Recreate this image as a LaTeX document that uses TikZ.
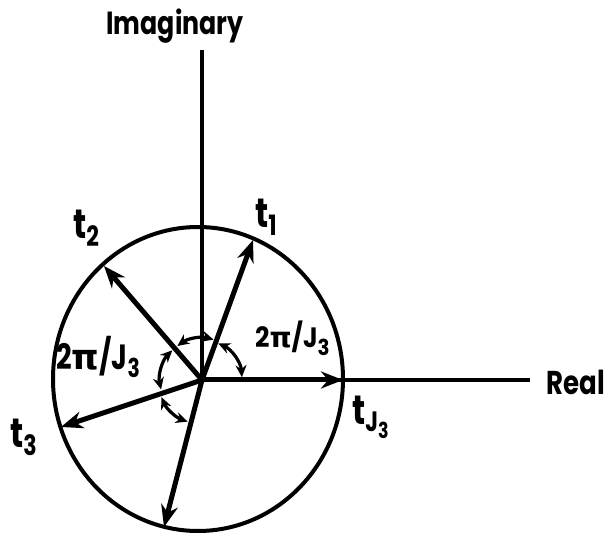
\documentclass[tikz,border=0pt]{standalone}
\usepackage{fontspec}
\setmainfont{Poppins}
\newfontfamily\labA[FakeStretch=0.79]{Poppins}
\newfontfamily\labB[FakeStretch=0.9]{Poppins}
\newfontfamily\labC[FakeStretch=0.78]{Poppins}
\newfontfamily\grk{DejaVu Sans}
\usetikzlibrary{arrows.meta,calc}
\newcommand{\subn}[3]{\raisebox{-#1pt}{\fontsize{#2}{#2}\selectfont #3}}
\begin{document}
\begin{tikzpicture}[x=1pt,y=-1pt,
  txt/.style={inner sep=0pt, anchor=base west},
  vec/.style={line width=5pt, -{Stealth[length=22pt,width=17pt]}},
  ang/.style={line width=3.2pt, {Stealth[length=12pt,width=11pt]}-{Stealth[length=12pt,width=11pt]}},
  axis/.style={line width=3.2pt}]
\useasboundingbox (0,0) rectangle (611,534);
\fill[white] (0,0) rectangle (611,534);
\coordinate (O) at (202,380);
\draw[line width=4pt] (198,379) ellipse [x radius=145, y radius=152];
\coordinate (ytop) at (202,50);
\coordinate (xend) at (530,380);
\draw[axis] (O) -- (ytop);
\draw[axis] (O) -- (xend);
\coordinate (pJ) at (343,380);
\coordinate (p1) at (253,240);
\coordinate (p2) at (104,266);
\coordinate (p3) at (61,427);
\coordinate (p4) at (164,527);
\draw[vec] (O) -- (pJ);
\draw[vec] (O) -- (p1);
\draw[vec] (O) -- (p2);
\draw[vec] (O) -- (p3);
\draw[vec] (O) -- (p4);
\draw[ang] ($(O)+(-4:40)$) arc[start angle=-4, end angle=-66, radius=40];
\draw[ang] ($(O)+(-74:42)$) arc[start angle=-74, end angle=-126, radius=42];
\draw[ang] ($(O)+(-135:42)$) arc[start angle=-135, end angle=-193, radius=42];
\draw[ang] ($(O)+(-203:44)$) arc[start angle=-203, end angle=-251, radius=44];
\node[inner sep=0pt, anchor=base, font=\labA\fontsize{32}{32}\selectfont\bfseries] (imag) at (175,35) {Imaginary};
\node[inner sep=0pt, anchor=base, font=\labA\fontsize{33}{33}\selectfont\bfseries] (real) at (576,395) {Real};
\node[txt, font=\labA\fontsize{41}{41}\selectfont\bfseries] (l1) at (255,228) {t\subn{8}{28}{1}};
\node[txt, font=\labA\fontsize{41}{41}\selectfont\bfseries] (l2) at (73,239) {t\subn{8}{28}{2}};
\node[txt, font=\labA\fontsize{41}{41}\selectfont\bfseries] (l3) at (10,448) {t\subn{8}{28}{3}};
\node[txt, font=\labA\fontsize{41}{41}\selectfont\bfseries] (lJ) at (352,425) {t\subn{7}{28}{J\subn{7}{22}{3}}};
\node[txt, font=\labB\fontsize{28}{28}\selectfont\bfseries] (ar) at (255,348) {2{\grk π}/J\subn{8}{22}{3}};
\node[txt, font=\labC\fontsize{35}{35}\selectfont\bfseries] (al) at (56,370) {2{\grk π}/J\subn{8}{26}{3}};
\end{tikzpicture}
\end{document}
